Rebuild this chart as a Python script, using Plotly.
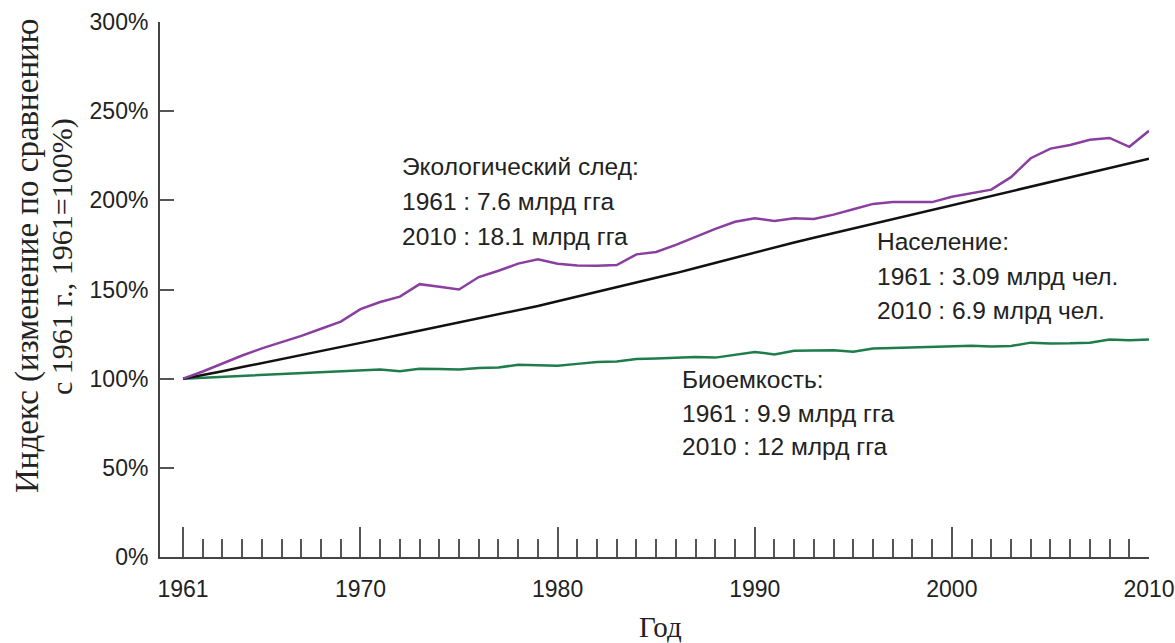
import plotly.graph_objects as go

years = list(range(1961, 2011))

# Экологический след, % от 1961
footprint = [100, 104, 108.5, 113, 117, 120.5, 124, 128, 132, 139,
             143, 146, 153, 151.5, 150, 157, 160.5, 164.5, 167, 164.5,
             163.5, 163.3, 163.7, 169.7, 171, 175, 179.6, 184, 188, 190,
             188.4, 190, 189.5, 192, 195, 198, 199, 199, 199, 202,
             204, 206, 213, 223.6, 229, 231, 234, 235, 230, 239]

# Население, % от 1961
population = [100, 101.9, 104.2, 106.5, 108.7, 111, 113.3, 115.5, 117.8, 119.7,
              122.3, 124.6, 126.9, 129.1, 131.4, 133.7, 135.9, 138.2, 140.8, 143.4,
              146, 148.5, 151.1, 153.7, 156.3, 159.2, 162.1, 165, 168, 170.9,
              173.5, 176.4, 179, 181.6, 184.1, 186.7, 189.3, 191.9, 194.5, 197.1,
              199.7, 202.3, 204.9, 207.4, 210, 212.6, 215.2, 217.8, 220.4, 223.3]

# Биоемкость, % от 1961
biocapacity = [100, 100.5, 101, 101.5, 102.2, 102.8, 103.2, 103.7, 104.1, 104.6,
               105.2, 104.2, 105.6, 105.4, 105.2, 106, 106.3, 107.8, 107.4, 107.2,
               108.3, 109.4, 109.6, 111, 111.3, 111.8, 112.2, 111.8, 113.4, 115,
               113.6, 115.7, 115.8, 116, 115.1, 116.9, 117.2, 117.4, 117.6, 117.8,
               118.4, 118, 118.3, 120.2, 119.7, 119.8, 120.2, 122, 121.5, 122]

x_ticks = [1961, 1970, 1980, 1990, 2000, 2010]
y_ticks = [0, 50, 100, 150, 200, 250, 300]
y_tick_labels = ["0%", "50%", "100%", "150%", "200%", "250%", "300%"]

footprint_text = ["Экологический след:", "1961 : 7.6 млрд гга", "2010 : 18.1 млрд гга"]
population_text = ["Население:", "1961 : 3.09 млрд чел.", "2010 : 6.9 млрд чел."]
bio_text = ["Биоемкость:", "1961 : 9.9 млрд гга", "2010 : 12 млрд гга"]
y_title = ["Индекс (изменение по сравнению", "с 1961 г., 1961=100%)"]

SANS = "Liberation Sans, Arial, sans-serif"
SERIF = "Liberation Serif, Times New Roman, serif"

fig = go.Figure()
fig.add_trace(go.Scatter(x=years, y=biocapacity, mode="lines",
                         line=dict(color="#1e7d4a", width=2.5)))
fig.add_trace(go.Scatter(x=years, y=population, mode="lines",
                         line=dict(color="#111111", width=2.5)))
fig.add_trace(go.Scatter(x=years, y=footprint, mode="lines",
                         line=dict(color="#8a3ea0", width=2.5)))

# text blocks, one annotation per line
def add_block(lines, x0, y0, step):
    for i, s in enumerate(lines):
        fig.add_annotation(x=x0, y=y0 - i * step, xref="x", yref="y", text=s,
                           showarrow=False, xanchor="left", yanchor="middle",
                           font=dict(family=SANS, size=24.5, color="#222"))

add_block(footprint_text, 1972.0, 218.9, 19.6)
add_block(population_text, 1996.1, 176.7, 19.3)
add_block(bio_text, 1986.2, 99.3, 18.8)

# y title, two rotated lines
fig.add_annotation(x=-0.1345, y=0.5626, xref="paper", yref="paper", text=y_title[0],
                   textangle=-90, showarrow=False, xanchor="center", yanchor="middle",
                   font=dict(family=SERIF, size=33, color="#222"))
fig.add_annotation(x=-0.0991, y=0.5626, xref="paper", yref="paper", text=y_title[1],
                   textangle=-90, showarrow=False, xanchor="center", yanchor="middle",
                   font=dict(family=SERIF, size=30, color="#222"))
fig.add_annotation(x=0.5056, y=-0.131, xref="paper", yref="paper", text="Год",
                   showarrow=False, xanchor="center", yanchor="middle",
                   font=dict(family=SERIF, size=29, color="#222"))

fig.update_layout(
    width=1175, height=643,
    margin=dict(l=160, r=26, t=22, b=86),
    paper_bgcolor="white", plot_bgcolor="white",
    showlegend=False,
    font=dict(family=SANS, size=23, color="#222"),
)
fig.update_xaxes(
    range=[1959.83, 2010], tickvals=x_ticks, automargin=False,
    ticks="inside", ticklen=30, tickwidth=1.5, tickcolor="#555",
    minor=dict(tickvals=years, ticks="inside", ticklen=18,
               tickwidth=1.5, tickcolor="#555"),
    showline=True, linecolor="#444", linewidth=2,
    showgrid=False, zeroline=False, ticklabelstandoff=10,
)
fig.update_yaxes(
    range=[0, 300], tickvals=y_ticks, ticktext=y_tick_labels, automargin=False,
    ticks="inside", ticklen=14, tickwidth=1.5, tickcolor="#555",
    showline=True, linecolor="#444", linewidth=2,
    showgrid=False, zeroline=False, ticklabelstandoff=5,
)

# drop the default page margin so the figure sits at the window corner
fig.write_html("out.html",
               config={"displayModeBar": False},
               post_script="document.body.style.margin='0';"
                           "document.documentElement.style.overflow='hidden';")
